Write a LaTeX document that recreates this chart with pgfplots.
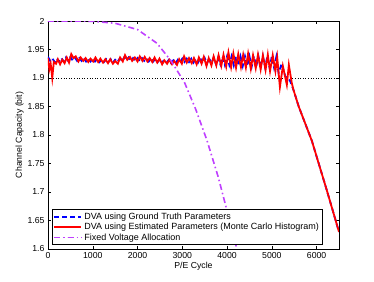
\documentclass[border=0pt]{standalone}
\usepackage{fontspec}
\setmainfont{Liberation Sans}
\usepackage{pgfplots}
\pgfplotsset{compat=1.18}
\definecolor{fvpurple}{rgb}{0.75,0.25,1}
\begin{document}
\begin{tikzpicture}
\useasboundingbox (-48pt,-32pt) rectangle (326pt,249pt);
\begin{axis}[
  at={(0,0)}, anchor=south west,
  width=291pt, height=228pt, scale only axis,
  xmin=0, xmax=6500, ymin=1.6, ymax=2,
  xtick={0,1000,...,6000},
  ytick={1.6,1.65,...,2.001},
  yticklabels={1.6,1.65,1.7,1.75,1.8,1.85,1.9,1.95,2},
  xticklabel style={/pgf/number format/1000 sep={}},
  scaled x ticks=false,
  /pgf/number format/assume math mode=true,
  tick align=inside, major tick length=3pt,
  tick style={black, line width=0.4pt},
  axis line style={black, line width=0.6pt},
  ticklabel style={font=\fontsize{8.7}{10}\selectfont},
  label style={font=\fontsize{8.7}{10}\selectfont},
  xlabel={P/E Cycle}, ylabel={Channel Capacity (bit)},
  xlabel style={yshift=3pt},
  ylabel style={yshift=-3pt},
  legend style={at={(0.014,0.018)}, anchor=south west, font=\fontsize{9}{10}\selectfont,
    inner sep=1pt, row sep=-1.5pt, cells={anchor=west}},
  legend cell align=left,
  legend image post style={xscale=1.6},
]
\addplot[black, dotted, line width=0.6pt, forget plot] coordinates {(0,1.9) (6500,1.9)};
% blue: ground truth
\addplot[blue, line width=1.8pt, dash pattern=on 5pt off 3pt] coordinates {
(0,1.937)(50,1.930)(100,1.934)(150,1.928)(200,1.934)(250,1.929)(300,1.935)(350,1.929)(400,1.936)(450,1.930)
(500,1.937)(550,1.931)(600,1.936)(650,1.930)(700,1.935)(750,1.930)(800,1.935)(850,1.929)(900,1.934)(950,1.929)
(1000,1.934)(1050,1.929)(1100,1.934)(1150,1.928)(1200,1.933)(1250,1.928)(1300,1.933)(1350,1.928)(1400,1.933)(1450,1.927)
(1500,1.932)(1550,1.928)(1600,1.934)(1650,1.929)(1700,1.936)(1750,1.931)(1800,1.936)(1850,1.930)(1900,1.935)(1950,1.930)
(2000,1.935)(2050,1.930)(2100,1.935)(2150,1.930)(2200,1.934)(2250,1.929)(2300,1.934)(2350,1.929)(2400,1.934)(2450,1.928)
(2500,1.933)(2550,1.927)(2600,1.932)(2650,1.927)(2700,1.932)(2750,1.926)(2800,1.931)(2850,1.926)(2900,1.932)(2950,1.927)
(3000,1.934)(3050,1.928)(3100,1.934)(3150,1.928)(3200,1.934)(3250,1.927)(3300,1.934)(3350,1.927)(3400,1.935)(3450,1.926)
(3500,1.935)(3550,1.925)(3600,1.935)(3650,1.925)(3700,1.936)(3750,1.925)(3800,1.936)(3850,1.924)(3900,1.937)(3950,1.923)
(4000,1.938)(4050,1.923)(4100,1.938)(4150,1.922)(4200,1.938)(4250,1.922)(4300,1.938)(4350,1.921)(4400,1.938)(4450,1.921)
(4500,1.938)(4550,1.920)(4600,1.938)(4650,1.920)(4700,1.938)(4750,1.919)(4800,1.938)(4850,1.919)(4900,1.938)(4950,1.918)
(5000,1.938)(5050,1.918)(5100,1.937)(5150,1.909)(5220,1.925)(5300,1.903)(5402,1.896)(5480,1.880)
(5600,1.850)(5893,1.790)(6228,1.703)(6500,1.630)};
\addlegendentry{DVA using Ground Truth Parameters}
% red: estimated
\addplot[red, line width=1.8pt] coordinates {
(0,1.935)(30,1.915)(60,1.925)(95,1.900)(130,1.928)(180,1.925)(220,1.933)(270,1.924)(320,1.932)(370,1.926)
(420,1.936)(470,1.927)(520,1.942)(570,1.935)(620,1.938)(680,1.929)(730,1.936)(790,1.930)(840,1.935)(900,1.928)
(950,1.934)(1010,1.929)(1060,1.936)(1120,1.928)(1170,1.934)(1230,1.927)(1280,1.933)(1340,1.926)(1390,1.933)(1450,1.925)
(1500,1.930)(1560,1.925)(1610,1.936)(1670,1.929)(1720,1.940)(1770,1.932)(1830,1.937)(1880,1.930)(1940,1.936)(2000,1.929)
(2050,1.938)(2110,1.930)(2160,1.937)(2220,1.929)(2270,1.935)(2330,1.928)(2380,1.936)(2440,1.927)(2490,1.934)(2550,1.924)
(2600,1.931)(2660,1.925)(2710,1.932)(2770,1.924)(2820,1.930)(2880,1.923)(2930,1.933)(2990,1.925)(3040,1.938)(3100,1.927)
(3150,1.935)(3210,1.926)(3260,1.935)(3320,1.924)(3370,1.936)(3430,1.925)(3480,1.937)(3540,1.921)(3590,1.935)(3650,1.922)
(3700,1.938)(3760,1.922)(3810,1.940)(3870,1.921)(3920,1.941)(3980,1.920)(4030,1.945)(4090,1.919)(4140,1.943)(4200,1.918)
(4250,1.942)(4310,1.919)(4360,1.941)(4420,1.918)(4470,1.943)(4530,1.916)(4580,1.940)(4640,1.917)(4690,1.941)(4750,1.915)
(4800,1.940)(4860,1.914)(4910,1.941)(4960,1.912)(5020,1.940)(5080,1.912)(5120,1.936)(5180,1.884)(5246,1.921)(5335,1.888)
(5380,1.923)(5446,1.891)(5480,1.880)(5600,1.850)(5893,1.790)(6228,1.703)(6500,1.630)};
\addlegendentry{DVA using Estimated Parameters (Monte Carlo Histogram)}
% purple: fixed
\addplot[fvpurple, line width=1.6pt, dash pattern=on 6pt off 3pt on 1.5pt off 3pt] coordinates {
(0,2.0)(500,2.0)(1000,1.9995)(1500,1.996)(2000,1.985)(2433,1.961)(2750,1.930)(3050,1.892)(3300,1.845)
(3549,1.791)(3800,1.727)(3996,1.668)(4219,1.600)};
\addlegendentry{Fixed Voltage Allocation}
\end{axis}
\end{tikzpicture}
\end{document}
